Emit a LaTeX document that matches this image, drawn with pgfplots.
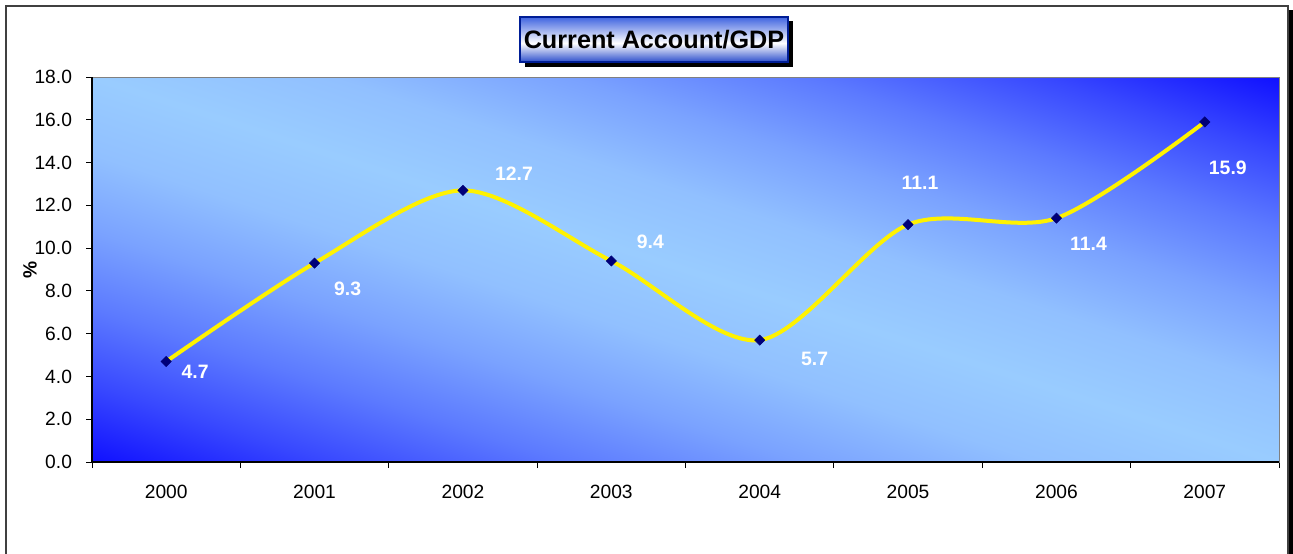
\documentclass[border=0pt]{standalone}
\usepackage{fontspec}
\setmainfont{Liberation Sans}
\usepackage{pgfplots}
\pgfplotsset{compat=1.18}
\usepackage{pgfplotstable}

\definecolor{bgdark}{RGB}{16,16,255}
\definecolor{bgmidA}{RGB}{56,72,255}
\definecolor{bgmidB}{RGB}{92,122,255}
\definecolor{bgmidC}{RGB}{122,162,255}
\definecolor{bgmidD}{RGB}{145,192,255}
\definecolor{bglight}{RGB}{153,204,255}
\definecolor{ttop}{RGB}{64,100,224}
\definecolor{tbot}{RGB}{44,78,204}
\definecolor{tborder}{RGB}{0,30,150}
\definecolor{navy}{RGB}{0,0,120}

% plot area fill: dark in the lower left and upper right corners, light along the other diagonal
\pgfdeclarehorizontalshading{plotbg}{100bp}{color(0bp)=(bgdark); color(25bp)=(bgdark);
  color(30bp)=(bgmidA); color(35bp)=(bgmidB); color(40bp)=(bgmidC); color(45bp)=(bgmidD); color(50bp)=(bglight);
  color(55bp)=(bgmidD); color(60bp)=(bgmidC); color(65bp)=(bgmidB); color(70bp)=(bgmidA);
  color(75bp)=(bgdark); color(100bp)=(bgdark)}
% title box: blue at top and bottom, white a bit below the middle
\pgfdeclareverticalshading{titlebg}{100bp}{color(0bp)=(tbot); color(25bp)=(tbot); color(46bp)=(white); color(75bp)=(ttop); color(100bp)=(ttop)}

\pgfplotstableread{
x y dx dy
0 4.7 14.5 -5
1 9.3 16.5 -13
2 12.7 25.5 8.5
3 9.4 19.5 9.5
4 5.7 27.5 -9.5
5 11.1 6 21
6 11.4 16 -13
7 15.9 11.5 -23
}\cadata

\begin{document}
\begin{tikzpicture}
\useasboundingbox (0,0) rectangle (646.5pt,-276.5pt);
\clip (0,0) rectangle (646.5pt,-276.5pt);

% outer chart frame with shadow
\fill[black] (4.75pt,-5pt) rectangle (646.5pt,-292pt);
\draw[black!75, line width=1pt, fill=white] (2.75pt,-3pt) rectangle (644pt,-290pt);

% title box
\fill[black] (262.5pt,-10.5pt) rectangle (396.5pt,-33.5pt);
\shade[shading=titlebg, draw=tborder, line width=0.6pt] (260pt,-8.5pt) rectangle (394pt,-31pt);
\node[font=\fontsize{12.6}{14}\selectfont\bfseries] at (327pt,-20pt) {Current Account/GDP};

% plot area gradient, sheared so that it runs along the diagonals
\begin{scope}
  \clip (46pt,-231pt) rectangle (639.5pt,-38.5pt);
  \begin{scope}[transform canvas={cm={2.9675,0.9625,-2.9675,0.9625,(342.75pt,-134.75pt)}}]
    \shade[shading=plotbg] (-100pt,-100pt) rectangle (100pt,100pt);
  \end{scope}
\end{scope}

\begin{axis}[
    at={(46pt,-231pt)}, anchor=south west,
    scale only axis,
    width=593.5pt, height=192.5pt,
    xmin=-0.5, xmax=7.5,
    ymin=0, ymax=18,
    xtick={0,...,7},
    xticklabels={2000,2001,2002,2003,2004,2005,2006,2007},
    major x tick style={draw=none},
    minor xtick={-0.5,0.5,...,7.5},
    minor tick length=3pt,
    ytick={0,2,...,18},
    major tick length=3pt,
    tick align=outside,
    xtick pos=bottom, ytick pos=left,
    tick style={black, line width=0.5pt},
    yticklabel={\pgfmathprintnumber[fixed,fixed zerofill,precision=1]{\tick}},
    /pgf/number format/assume math mode=true,
    ticklabel style={font=\fontsize{9.6}{11}\selectfont},
    yticklabel style={xshift=-3.5pt},
    xticklabel style={yshift=-5pt},
    ylabel={\%},
    every axis y label/.style={at={(rel axis cs:0,0.5)}, xshift=-31pt, rotate=90, anchor=center, font=\fontsize{9.6}{11}\selectfont\bfseries},
    axis line style={draw=gray, line width=0.5pt},
    after end axis/.code={
        \draw[black, line width=0.6pt] (rel axis cs:0,1) -- (rel axis cs:0,0) -- (rel axis cs:1,0);
    },
]
\addplot[
    yellow, line width=2pt, smooth,
    mark=square*, mark size=1.8pt,
    mark options={rotate=45, fill=navy, draw=navy, line width=0.3pt},
    visualization depends on={\thisrow{dx} \as \dx},
    visualization depends on={\thisrow{dy} \as \dy},
    nodes near coords={\pgfmathprintnumber[fixed,fixed zerofill,precision=1]{\pgfplotspointmeta}},
    nodes near coords style={anchor=center, xshift=\dx pt, yshift=\dy pt, text=white, font=\fontsize{9.7}{11}\selectfont\bfseries},
] table[x=x, y=y] {\cadata};
\end{axis}
\end{tikzpicture}
\end{document}
